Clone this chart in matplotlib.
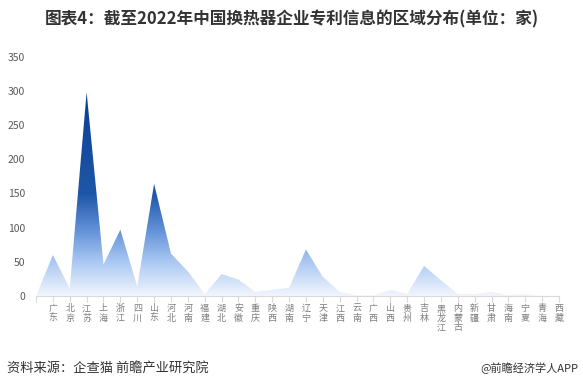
import matplotlib
matplotlib.use("Agg")
import matplotlib.pyplot as plt
import numpy as np
from matplotlib.colors import LinearSegmentedColormap
from matplotlib.patches import Polygon

plt.rcParams['font.family'] = ['Noto Sans CJK SC', 'DejaVu Sans']

provinces = ["", "广东", "北京", "江苏", "上海", "浙江", "四川", "山东", "河北", "河南", "福建",
             "湖北", "安徽", "重庆", "陕西", "湖南", "辽宁", "天津", "江西", "云南", "广西",
             "山西", "贵州", "吉林", "黑龙江", "内蒙古", "新疆", "甘肃", "海南", "宁夏", "青海", "西藏"]
counts = [0, 60, 11, 298, 46, 97, 14, 164, 62, 36, 3,
          32, 24, 6, 9, 12, 68, 28, 6, 1, 1,
          9, 3, 44, 23, 3, 3, 6, 1, 3, 0, 0]
yticks = [0, 50, 100, 150, 200, 250, 300, 350]

fig = plt.figure(figsize=(5.83, 3.88), dpi=100)
ax = fig.add_axes([36/583, 92/388, 523/583, 239.3/388])

x = np.arange(len(provinces))
y = np.array(counts, dtype=float)

cmap = LinearSegmentedColormap.from_list(
    "grad", [(0.0, "#f2f6fd"), (0.17, "#a9c7f2"), (0.33, "#5f8fd6"),
             (0.5, "#1f57a8"), (1.0, "#0b3f94")])
grad = np.linspace(0, 1, 256).reshape(-1, 1)
im = ax.imshow(grad, aspect='auto', cmap=cmap, origin='lower',
               extent=[x[0], x[-1], 0, max(counts)], zorder=1)
verts = np.column_stack([np.concatenate([x, x[::-1]]),
                         np.concatenate([y, np.zeros_like(y)])])
poly = Polygon(verts, closed=True, facecolor='none', edgecolor='none')
ax.add_patch(poly)
im.set_clip_path(poly)

ax.set_xlim(x[0], x[-1])
ax.set_ylim(0, 350)
ax.set_yticks(yticks)
ax.set_yticklabels([str(v) for v in yticks], fontsize=7.5, color="#595959")
ax.set_xticks(x)
ax.set_xticklabels(["\n".join(p) for p in provinces], fontsize=6.5, color="#7f7f7f",
                   linespacing=1.05, va='top')
ax.tick_params(axis='y', length=0, pad=8)
ax.tick_params(axis='x', length=4, color="#d9d9d9", pad=2)
for s in ['top', 'right', 'left']:
    ax.spines[s].set_visible(False)
ax.spines['bottom'].set_color("#d9d9d9")
ax.spines['bottom'].set_zorder(3)

fig.text(0.5, 1 - 19/388, "图表4：截至2022年中国换热器企业专利信息的区域分布(单位：家)",
         ha='center', va='center', fontsize=12, fontweight='bold', color="#333333")
fig.text(7/583, 1 - 368/388, "资料来源：企查猫 前瞻产业研究院", ha='left', va='center',
         fontsize=9.5, color="#333333")
fig.text(578/583, 1 - 368/388, "@前瞻经济学人APP", ha='right', va='center',
         fontsize=8, color="#333333")

fig.savefig("out.png", dpi=100)
